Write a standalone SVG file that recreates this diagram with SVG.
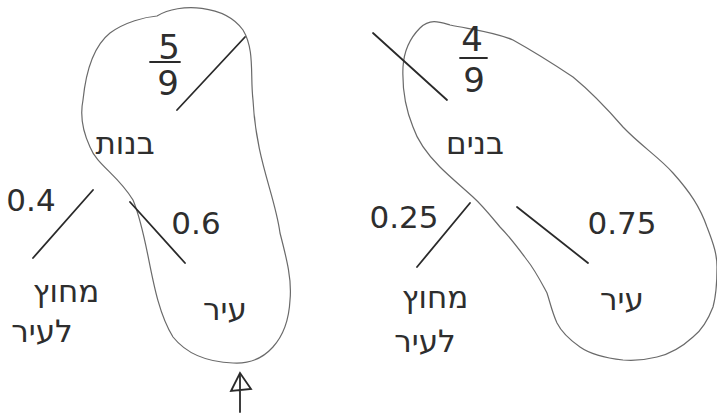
<svg xmlns="http://www.w3.org/2000/svg" width="717" height="418" viewBox="0 0 717 418">
<style>
.blob{fill:none;stroke:#6a6a6a;stroke-width:1.2;stroke-linecap:round}
.edge{fill:none;stroke:#2a2a2a;stroke-width:1.8;stroke-linecap:round}
.t{font-family:"DejaVu Sans","Liberation Sans",sans-serif;fill:#2e2e2e;font-weight:normal}
.num{font-size:31px}
.heb{font-size:31px}
.frac{font-size:34px}
</style>
<rect width="717" height="418" fill="#fff"/>
<g id="group-left">
<path class="blob" d="M157,16 C180,2 225,5 243,30 C255,50 250,75 253,100 C256,160 275,195 280,233 C287,260 292,280 290,300 C288,340 265,365 233,363 C205,362 185,352 173,337 C150,300 150,240 133,200 C118,175 97,165 90,147 C82,130 80,115 83,100 C86,70 95,45 110,33 C125,22 145,17 157,16 Z"/>
</g>
<g id="group-right">
<path class="blob" d="M420,28 C430,18 440,22 450,25 C475,30 495,32 513,40 C540,55 555,65 573,77 C595,95 610,112 623,127 C640,145 660,158 673,173 C690,192 700,207 707,227 C714,245 717,255 717,267 C717,285 716,296 713,307 C708,320 702,330 693,337 C682,347 670,354 657,357 C645,360 635,361 623,360 C605,358 590,354 580,347 C570,340 562,333 557,323 C552,312 550,302 547,293 C540,280 535,270 527,260 C518,248 510,237 500,227 C490,215 482,205 473,197 C462,187 450,177 440,167 C428,155 418,142 413,127 C406,110 402,90 403,67 C404,50 410,38 420,28 Z"/>
</g>
<g id="connectors">
<line class="edge" x1="245" y1="37" x2="177" y2="110"/>
<line class="edge" x1="93" y1="190" x2="33" y2="258"/>
<line class="edge" x1="130" y1="202" x2="185" y2="263"/>
<line class="edge" x1="373" y1="33" x2="447" y2="100"/>
<line class="edge" x1="470" y1="203" x2="417" y2="267"/>
<line class="edge" x1="517" y1="207" x2="588" y2="263"/>
<path class="edge" d="M240,412 L240,376 M231,391 L240,373 L251,389 Z"/>
</g>
<g id="root-left">
<text class="t frac" x="169" y="59" text-anchor="middle">5</text>
<line class="edge" x1="150" y1="62" x2="180" y2="62"/>
<text class="t frac" x="168" y="95" text-anchor="middle">9</text>
</g>
<g id="root-right">
<text class="t frac" x="472" y="51" text-anchor="middle">4</text>
<line class="edge" x1="460" y1="58" x2="487" y2="58"/>
<text class="t frac" x="474" y="92" text-anchor="middle">9</text>
</g>
<g id="node-girls"><text class="t heb" x="125" y="154" text-anchor="middle">בנות</text></g>
<g id="node-boys"><text class="t heb" x="475" y="154" text-anchor="middle">בנים</text></g>
<g id="label-04"><text class="t num" x="31" y="211" text-anchor="middle">0.4</text></g>
<g id="label-06"><text class="t num" x="196" y="234" text-anchor="middle">0.6</text></g>
<g id="label-025"><text class="t num" x="404" y="228" text-anchor="middle">0.25</text></g>
<g id="label-075"><text class="t num" x="622" y="234" text-anchor="middle">0.75</text></g>
<g id="node-left-out"><text class="t heb" x="66" y="302" text-anchor="middle">מחוץ</text><text class="t heb" x="42" y="342" text-anchor="middle">לעיר</text></g>
<g id="node-left-city"><text class="t heb" x="225" y="320" text-anchor="middle">עיר</text></g>
<g id="node-right-out"><text class="t heb" x="435" y="308" text-anchor="middle">מחוץ</text><text class="t heb" x="425" y="352" text-anchor="middle">לעיר</text></g>
<g id="node-right-city"><text class="t heb" x="622" y="310" text-anchor="middle">עיר</text></g>
</svg>
